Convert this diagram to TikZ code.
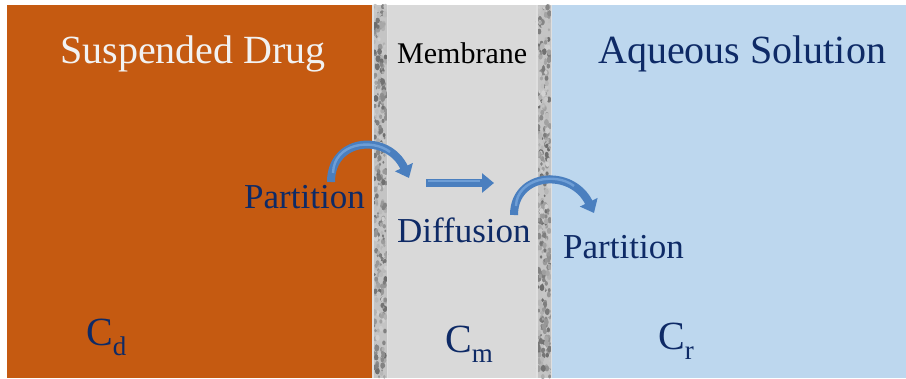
\documentclass[tikz,border=0pt]{standalone}
\usepackage{fontspec}
\setmainfont{Liberation Serif}
\usetikzlibrary{arrows.meta}
\definecolor{drug}{HTML}{C55A11}
\definecolor{memb}{HTML}{D9D9D9}
\definecolor{aqua}{HTML}{BDD7EE}
\definecolor{navy}{HTML}{0E2A66}
\definecolor{flow}{HTML}{4A7FBF}
\definecolor{flowlight}{HTML}{6E9ED6}
\definecolor{wallbase}{HTML}{C4C4C4}
\newcommand\csub[1]{\raisebox{-10pt}{\fontsize{27}{30}\selectfont #1}}
\tikzset{
  title/.style={anchor=base west, inner sep=0pt, font=\fontsize{40}{48}\selectfont},
  label/.style={anchor=base west, inner sep=0pt, text=navy, font=\fontsize{35}{42}\selectfont},
  conc/.style={anchor=base west, inner sep=0pt, text=navy, font=\fontsize{40}{48}\selectfont},
  flowarrow/.style={draw=flow, line width=8pt, -{Triangle[length=12pt,width=19pt]}},
  flowshine/.style={draw=flowlight, line width=2.4pt},
}
\begin{document}
\begin{tikzpicture}[x=1pt,y=-1pt]
\useasboundingbox[fill=white] (0,0) rectangle (906,378);

% the three compartments
\fill[drug] (7,5) rectangle (372,378);
\fill[memb] (388,5) rectangle (536,378);
\fill[aqua] (552,5) rectangle (906,378);

% porous membrane walls
\pgfmathsetseed{11}
\foreach \xl in {372,536}{
  \fill[wallbase] (\xl,5) rectangle ++(16,373);
  \foreach \i in {1,...,380}{
    \pgfmathsetmacro{\px}{\xl+2+12*rnd}
    \pgfmathsetmacro{\py}{6+371*rnd}
    \pgfmathsetmacro{\sh}{18+40*rnd}
    \pgfmathsetmacro{\rr}{1.0+1.5*rnd}
    \fill[black!\sh] (\px,\py) ellipse [x radius=\rr, y radius=\rr*1.4];
  }
  \draw[white!75!gray, line width=1.5pt] (\xl+0.75,5) -- (\xl+0.75,378);
  \draw[white!75!gray, line width=1.5pt] (\xl+15.25,5) -- (\xl+15.25,378);
}

% compartment titles
\node[title, text=white!95!black] (tdrug) at (60,63) {Suspended Drug};
\node[anchor=base west, inner sep=0pt, font=\fontsize{30}{36}\selectfont] (tmemb) at (397,63) {Membrane};
\node[title, text=navy] (taqua) at (598,63) {Aqueous Solution};

% process labels
\node[label] (part1) at (244,208) {Partition};
\node[label] (diff) at (397,242) {Diffusion};
\node[label] (part2) at (563,258) {Partition};

% concentrations
\node[conc] (cd) at (86,345) {C\csub{d}};
\node[conc] (cm) at (445,352) {C\csub{m}};
\node[conc] (cr) at (658,349) {C\csub{r}};

% transport arrows
\coordinate (a1s) at (331,182);
\coordinate (a1e) at (409,178);
\coordinate (a2s) at (426,183);
\coordinate (a2e) at (494,183);
\coordinate (a3s) at (514,215);
\coordinate (a3e) at (594,213);

\draw[flowarrow] (a1s) .. controls (331,137) and (388,133) .. (a1e);
\draw[flowarrow] (a2s) -- (a2e);
\draw[flowarrow] (a3s) .. controls (514,172) and (572,168) .. (a3e);

\draw[flowshine] (333,173) .. controls (334,143) and (372,138) .. (390,152);
\draw[flowshine] (428,181) -- (480,181);
\draw[flowshine] (516,206) .. controls (517,178) and (556,172) .. (574,186);
\end{tikzpicture}
\end{document}
